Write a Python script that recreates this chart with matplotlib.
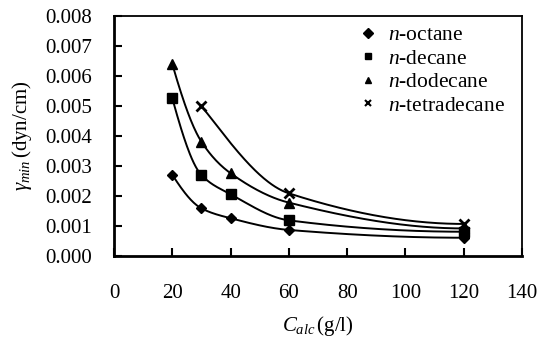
import numpy as np
import matplotlib
matplotlib.use("Agg")
import matplotlib.pyplot as plt

plt.rcParams['font.family'] = ['Liberation Serif', 'DejaVu Serif']
plt.rcParams['mathtext.fontset'] = 'custom'
plt.rcParams['mathtext.rm'] = 'Liberation Serif'
plt.rcParams['mathtext.it'] = 'Liberation Serif:italic'

# Data (x: alcohol concentration g/l, y: gamma_min dyn/cm)
x_oct = [20, 30, 40, 60, 120]
y_oct = [0.00271, 0.00159, 0.00126, 0.00087, 0.00061]
x_dec = [20, 30, 40, 60, 120]
y_dec = [0.00526, 0.00270, 0.00206, 0.00119, 0.00081]
x_dod = [20, 30, 40, 60, 120]
y_dod = [0.00640, 0.00381, 0.00276, 0.00178, 0.00092]
x_tet = [30, 60, 120]
y_tet = [0.00500, 0.00209, 0.00107]

labels = ['$n$-octane', '$n$-decane', '$n$-dodecane', '$n$-tetradecane']
markers = ['D', 's', '^', 'x']

xticks = [0, 20, 40, 60, 80, 100, 120, 140]
yticks = [0.000, 0.001, 0.002, 0.003, 0.004, 0.005, 0.006, 0.007, 0.008]


def pchip(x, y, xn):
    x = np.asarray(x, float); y = np.asarray(y, float)
    h = np.diff(x); d = np.diff(y) / h
    n = len(x)
    m = np.zeros(n)
    for k in range(1, n - 1):
        if d[k - 1] * d[k] > 0:
            w1 = 2 * h[k] + h[k - 1]; w2 = h[k] + 2 * h[k - 1]
            m[k] = (w1 + w2) / (w1 / d[k - 1] + w2 / d[k])
    m[0] = d[0]; m[-1] = d[-1]
    if n > 2:
        m[0] = ((2 * h[0] + h[1]) * d[0] - h[0] * d[1]) / (h[0] + h[1])
        if np.sign(m[0]) != np.sign(d[0]): m[0] = 0
        m[-1] = ((2 * h[-1] + h[-2]) * d[-1] - h[-1] * d[-2]) / (h[-1] + h[-2])
        if np.sign(m[-1]) != np.sign(d[-1]): m[-1] = 0
    idx = np.clip(np.searchsorted(x, xn) - 1, 0, n - 2)
    t = (xn - x[idx]) / h[idx]
    h00 = 2 * t**3 - 3 * t**2 + 1; h10 = t**3 - 2 * t**2 + t
    h01 = -2 * t**3 + 3 * t**2; h11 = t**3 - t**2
    return h00 * y[idx] + h10 * h[idx] * m[idx] + h01 * y[idx + 1] + h11 * h[idx] * m[idx + 1]


fig = plt.figure(figsize=(5.52, 3.46), dpi=100)
ax = fig.add_axes([0.2065, 0.260, 0.7392, 0.6938])

series = [(x_oct, y_oct), (x_dec, y_dec), (x_dod, y_dod), (x_tet, y_tet)]
for (xs, ys), mk, lb in zip(series, markers, labels):
    xn = np.linspace(xs[0], xs[-1], 300)
    ax.plot(xn, pchip(xs, ys, xn), color='black', lw=1.4)
    ms = 7 if mk != 'D' else 5.5
    ax.plot(xs, ys, linestyle='none', marker=mk, color='black', ms=ms,
            mew=2 if mk == 'x' else 1)
    ax.plot([], [], linestyle='none', marker=mk, color='black',
            ms=5 if mk != 'x' else 4, mew=1.5 if mk == 'x' else 1, label=lb)

ax.set_xlim(0, 140)
ax.set_ylim(0, 0.008)
ax.set_xticks(xticks)
ax.set_yticks(yticks)
ax.set_yticklabels([f'{v:.3f}' for v in yticks])
ax.tick_params(axis='both', direction='in', length=6, width=1.5, labelsize=15)
ax.tick_params(axis='x', pad=20)
ax.tick_params(axis='y', pad=16)
for s in ['left', 'bottom']:
    ax.spines[s].set_linewidth(2)
for s in ['top', 'right']:
    ax.spines[s].set_linewidth(1.3)

ax.set_xlabel(r'$C_{alc}\,$(g/l)', fontsize=15, labelpad=8)
ax.set_ylabel(r'$\gamma_{min}\,$(dyn/cm)', fontsize=15, labelpad=8)

leg = ax.legend(loc='upper left', bbox_to_anchor=(0.555, 1.042), frameon=False,
                fontsize=15.5, handlelength=0.8, handletextpad=0.5,
                labelspacing=0.16, borderpad=0.4)

fig.savefig('out.png', dpi=100)
